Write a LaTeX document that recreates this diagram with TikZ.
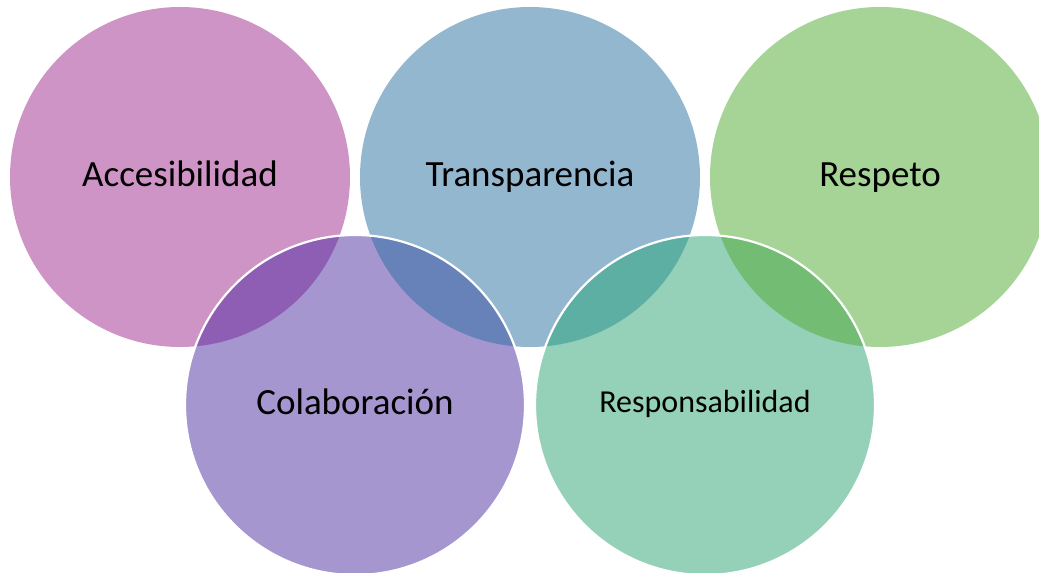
\documentclass[tikz,border=0pt]{standalone}
\usepackage{fontspec}
\setmainfont{Carlito}
\definecolor{pinkc}{HTML}{CF94C6}
\definecolor{bluec}{HTML}{94B7D0}
\definecolor{greenc}{HTML}{A6D497}
\definecolor{purplec}{HTML}{A596D0}
\definecolor{tealc}{HTML}{95D1B8}
\definecolor{ovpp}{HTML}{8E5EB4}
\definecolor{ovbp}{HTML}{6781B9}
\definecolor{ovbt}{HTML}{5EAFA3}
\definecolor{ovgt}{HTML}{73BC73}
\tikzset{
  bubble/.style={circle, minimum size=340pt, inner sep=0pt, outer sep=0pt, text=black,
    font=\fontsize{37}{40}\selectfont, text height=20pt, text depth=0pt},
  ring/.style={draw=white, line width=2.2pt},
}
\begin{document}
\begin{tikzpicture}[x=1pt,y=1pt]
\useasboundingbox (0,0) rectangle (1039,573);
\node[bubble, fill=pinkc] (acc) at (180,396) {Accesibilidad};
\node[bubble, fill=bluec] (tra) at (530,396) {Transparencia};
\node[bubble, fill=greenc] (res) at (880,396) {Respeto};
\node[bubble, fill=purplec] (col) at (355,168) {Colaboración};
\node[bubble, fill=tealc, font=\fontsize{32}{36}\selectfont, text height=16pt] (rsp) at (705,168) {Responsabilidad};
\begin{scope}
  \clip (col.center) circle (170pt);
  \fill[ovpp] (acc.center) circle (170pt);
  \fill[ovbp] (tra.center) circle (170pt);
\end{scope}
\begin{scope}
  \clip (rsp.center) circle (170pt);
  \fill[ovbt] (tra.center) circle (170pt);
  \fill[ovgt] (res.center) circle (170pt);
\end{scope}
\draw[ring] (col.center) circle (170pt);
\draw[ring] (rsp.center) circle (170pt);
\end{tikzpicture}
\end{document}
